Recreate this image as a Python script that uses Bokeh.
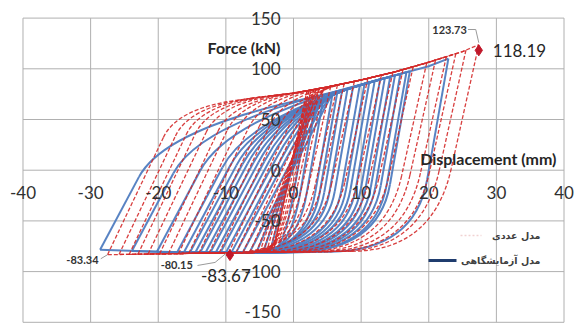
import numpy as np
from bokeh.plotting import figure
from bokeh.models import Range1d, Label, BoxAnnotation
from bokeh.core.properties import value
from bokeh.embed import file_html
from bokeh.resources import INLINE

# ---------------- data ----------------
x_ticks = [-40, -30, -20, -10, 0, 10, 20, 30, 40]
y_ticks = [-150, -100, -50, 0, 50, 100, 150]
x_tick_labels = ["-40", "-30", "-20", "-10", "0", "10", "20", "30", "40"]
y_tick_labels = ["-150", "-100", "-50", "0", "50", "100", "150"]

# experimental model (blue): cycle peaks
exp_neg_disp = [-3.5, -4.5, -5.5, -6.5, -7.5, -8.5, -9.2, -10.0, -10.8, -11.5,
                -12.3, -13.0, -13.8, -14.5, -15.3, -16.2, -17.2, -20.2, -23.9, -28.6]
exp_neg_force = [-81.1, -81.1, -81.2, -81.2, -81.2, -81.3, -81.3, -81.3, -81.2, -81.2,
                 -81.2, -81.1, -81.1, -81.0, -81.0, -80.9, -80.8, -80.5, -79.7, -78.5]
exp_pos_disp = [2.5, 3.5, 4.5, 5.8, 6.5, 7.2, 8.0, 8.8, 9.8, 10.5,
                11.2, 12.0, 12.8, 13.5, 14.3, 15.0, 15.8, 16.7, 17.2, 22.9]
exp_pos_force = [71.5, 72.9, 74.3, 76.4, 77.7, 79.0, 80.4, 81.8, 83.6, 84.9,
                 86.3, 87.8, 89.3, 90.6, 92.2, 93.5, 94.9, 96.6, 97.5, 110.0]
exp_top_env_x = [-30, -20, -10, -5, 0, 5, 10, 15, 20, 23]
exp_top_env_y = [30, 40, 52, 60, 68, 75, 84, 93.5, 102.5, 110]
exp_bot_env_x = [-30, -20, -10, 0, 10, 20, 30]
exp_bot_env_y = [-78.5, -80.5, -81.3, -81.0, -80.0, -78.5, -76.0]

# numerical model (red): cycle peaks
num_neg_disp = [-3.0, -3.5, -4.0, -4.5, -5.0, -5.5, -6.5, -7.5, -8.5, -9.6, -11.0,
                -12.5, -14.0, -15.5, -17.0, -18.5, -19.8, -21.5, -23.0, -24.3, -25.8, -27.5]
num_neg_force = [-80.9, -81.0, -81.0, -81.1, -81.1, -81.2, -81.3, -81.4, -81.5, -81.5, -81.6,
                 -81.8, -81.9, -82.1, -82.2, -82.4, -82.5, -82.7, -82.8, -83.0, -83.1, -83.34]
num_pos_disp = [2.0, 2.3, 2.6, 3.0, 3.3, 3.8, 4.5, 5.5, 6.5, 7.5, 9.0,
                11.0, 13.0, 14.7, 16.2, 17.7, 19.7, 21.0, 22.6, 24.0, 25.5, 27.4]
num_pos_force = [78.4, 78.8, 79.1, 79.6, 80.0, 80.6, 81.4, 82.7, 84.1, 85.5, 87.6,
                 90.6, 93.8, 96.5, 99.3, 102.1, 105.9, 108.6, 112.0, 114.9, 118.4, 123.73]
num_top_env_x = [-30, -20, -15, -10, -5, 0, 5, 10, 15, 20, 25, 27.4]
num_top_env_y = [50, 58, 63, 67.5, 72, 76, 82, 89, 97, 106.5, 117, 123.73]
num_bot_env_x = [-30, -20, -10, 0, 10, 20, 30]
num_bot_env_y = [-83.6, -82.5, -81.5, -80.6, -79.8, -79.0, -78.0]

# annotations
ann_x = [27.4, 27.4, -27.5, -10.0, -9.4]
ann_y = [123.73, 118.19, -83.34, -80.15, -83.67]
ann_text = ["123.73", "118.19", "-83.34", "-80.15", "-83.67"]

legend_labels = ["مدل عددی", "مدل آزمایشگاهی"]


def build_loops(dns, fns, dps, fps, tx, ty, bx, by, k_r, k_u, a_r, a_u, rw_r, rw_u):
    lxs, lys = [], []
    q = dict(x0=[], y0=[], x1=[], y1=[], cx=[], cy=[])

    def addq(x0, y0, x1, y1, cx, cy):
        q["x0"].append(x0); q["y0"].append(y0); q["x1"].append(x1)
        q["y1"].append(y1); q["cx"].append(cx); q["cy"].append(cy)

    for dn, fn, dp, fp in zip(dns, fns, dps, fps):
        # reloading branch (negative peak -> positive peak)
        g = np.linspace(dn, dp, 1500)
        d = fn + k_r * (g - dn) - np.interp(g, tx, ty)
        hit = np.nonzero(d >= 0)[0]
        if len(hit) == 0:
            lxs.append([dn, dp]); lys.append([fn, fp])
        else:
            ix = float(g[hit[0]]); iy = fn + k_r * (ix - dn)
            sx = dn + a_r * (ix - dn); sy = fn + a_r * (iy - fn)
            ex = min(ix + rw_r, dp)
            ey = fp if ex >= dp else float(np.interp(ex, tx, ty))
            lxs.append([dn, sx]); lys.append([fn, sy])
            addq(sx, sy, ex, ey, ix, iy)
            if ex < dp:
                mid = [v for v in tx if ex < v < dp]
                lxs.append([ex] + mid + [dp])
                lys.append([ey] + [float(np.interp(v, tx, ty)) for v in mid] + [fp])
        # unloading branch (positive peak -> negative peak)
        g = np.linspace(dp, dn, 1500)
        d = fp - k_u * (dp - g) - np.interp(g, bx, by)
        hit = np.nonzero(d <= 0)[0]
        if len(hit) == 0:
            lxs.append([dp, dn]); lys.append([fp, fn])
        else:
            ix = float(g[hit[0]]); iy = fp - k_u * (dp - ix)
            sx = dp + a_u * (ix - dp); sy = fp + a_u * (iy - fp)
            ex = max(ix - rw_u, dn)
            ey = fn if ex <= dn else float(np.interp(ex, bx, by))
            lxs.append([dp, sx]); lys.append([fp, sy])
            addq(sx, sy, ex, ey, ix, iy)
            if ex > dn:
                mid = [v for v in reversed(bx) if dn < v < ex]
                lxs.append([ex] + mid + [dn])
                lys.append([ey] + [float(np.interp(v, bx, by)) for v in mid] + [fn])
    return lxs, lys, q


# ---------------- figure ----------------
p = figure(width=578, height=324,
           x_range=Range1d(-43.327, 42.144), y_range=Range1d(-152.17, 167.36),
           output_backend="svg", toolbar_location=None,
           x_axis_type=None, y_axis_type=None, min_border=0)
p.grid.visible = False
p.outline_line_color = None
p.background_fill_color = "white"
p.border_fill_color = "white"

grid_col = "#b0b0b0"
p.segment(x0=x_ticks, y0=[y_ticks[0]] * len(x_ticks), x1=x_ticks, y1=[y_ticks[-1]] * len(x_ticks),
          line_color=grid_col, line_width=1)
p.segment(x0=[x_ticks[0]] * len(y_ticks), y0=y_ticks, x1=[x_ticks[-1]] * len(y_ticks), y1=y_ticks,
          line_color=grid_col, line_width=1)

blue = "#4f7cc0"
red = "#d42a2a"

bxs, bys, bq = build_loops(exp_neg_disp, exp_neg_force, exp_pos_disp, exp_pos_force,
                           exp_top_env_x, exp_top_env_y, exp_bot_env_x, exp_bot_env_y,
                           k_r=12.5, k_u=38, a_r=0.6, a_u=0.63, rw_r=22, rw_u=12.5)
p.multi_line(xs=bxs, ys=bys, line_color=blue, line_width=2.0, line_alpha=0.95)
p.quadratic(x0=bq["x0"], y0=bq["y0"], x1=bq["x1"], y1=bq["y1"], cx=bq["cx"], cy=bq["cy"],
            line_color=blue, line_width=2.0, line_alpha=0.95)

rxs, rys, rq = build_loops(num_neg_disp, num_neg_force, num_pos_disp, num_pos_force,
                           num_top_env_x, num_top_env_y, num_bot_env_x, num_bot_env_y,
                           k_r=14, k_u=30, a_r=0.8, a_u=0.6, rw_r=9, rw_u=12)
p.multi_line(xs=rxs, ys=rys, line_color=red, line_width=1.3, line_dash="4 2", line_alpha=0.9)
p.quadratic(x0=rq["x0"], y0=rq["y0"], x1=rq["x1"], y1=rq["y1"], cx=rq["cx"], cy=rq["cy"],
            line_color=red, line_width=1.3, line_dash="4 2", line_alpha=0.9)

# markers
p.scatter(x=[ann_x[1], ann_x[4]], y=[ann_y[1], ann_y[4]], marker="diamond", size=11,
          fill_color="#c0182a", line_color="#c0182a")

# leader lines
lead_col = "#9a9a9a"
p.line(x=[ann_x[0] - 1.6, ann_x[0] - 0.45, ann_x[0]], y=[ann_y[0] + 15, ann_y[0] + 15, ann_y[0] + 2],
       line_color=lead_col, line_width=1)
p.line(x=[ann_x[2] - 1.0, ann_x[2]], y=[ann_y[2] - 4, ann_y[2]], line_color=lead_col, line_width=1)
p.line(x=[ann_x[3] - 4.2, ann_x[3] - 1.6, ann_x[3]], y=[ann_y[3] - 13.8, ann_y[3] - 10.8, ann_y[3] - 2],
       line_color=lead_col, line_width=1)

# tick labels
font = value("Lato")
txt_col = "#303030"
p.text(x=x_ticks, y=[0] * len(x_ticks), text=x_tick_labels, y_offset=22,
       text_align="center", text_baseline="middle", text_font=font,
       text_font_size="17px", text_color=txt_col)
# the lowest y label sits at the very bottom edge: nudge it up so it stays inside the picture
y_label_offsets = [-11 if v == y_ticks[0] else 0 for v in y_ticks]
p.text(x=[0] * len(y_ticks), y=y_ticks, text=y_tick_labels, x_offset=-13,
       y_offset=y_label_offsets,
       text_align="right", text_baseline="middle", text_font=font,
       text_font_size="17px", text_color=txt_col)

# axis titles
p.add_layout(Label(x=280, y=277, x_units="screen", y_units="screen", text="Force (kN)",
                   text_align="right", text_baseline="middle", text_font="Lato",
                   text_font_style="bold", text_font_size="16px", text_color="#262626"))
p.add_layout(Label(x=556, y=166, x_units="screen", y_units="screen", text="Displacement (mm)",
                   text_align="right", text_baseline="middle", text_font="Lato",
                   text_font_style="bold", text_font_size="16px", text_color="#262626"))

# value annotations
small = dict(text_font="Lato", text_font_style="bold", text_font_size="11px", text_color="#333333",
             text_baseline="middle")
big = dict(text_font="Lato", text_font_size="17px", text_color="#262626", text_baseline="middle")
p.add_layout(Label(x=ann_x[0], y=ann_y[0], text=ann_text[0], x_offset=-12, y_offset=15,
                   text_align="right", **small))
p.add_layout(Label(x=ann_x[1], y=ann_y[1], text=ann_text[1], x_offset=14, y_offset=0,
                   text_align="left", **big))
p.add_layout(Label(x=ann_x[2], y=ann_y[2], text=ann_text[2], x_offset=-9, y_offset=-5,
                   text_align="right", **small))
p.add_layout(Label(x=ann_x[3], y=ann_y[3], text=ann_text[3], x_offset=-33, y_offset=-14,
                   text_align="right", **small))
p.add_layout(Label(x=ann_x[4], y=ann_y[4], text=ann_text[4], x_offset=-4, y_offset=-20.5,
                   text_align="center", **big))

# legend
leg = dict(text_font="DejaVu Sans", text_font_style="bold", text_font_size="9.5px",
           text_color="#404040", text_align="right", text_baseline="middle",
           x_units="screen", y_units="screen")
p.add_layout(Label(x=540, y=89, text=legend_labels[0], **leg))
p.add_layout(Label(x=540, y=64, text=legend_labels[1], **leg))
p.add_layout(BoxAnnotation(left=460, right=481, top=89, bottom=89,
                           left_units="screen", right_units="screen",
                           top_units="screen", bottom_units="screen",
                           fill_alpha=0, line_color="#cf6b6b", line_width=1.4, line_dash="2 2"))
p.add_layout(BoxAnnotation(left=428, right=456, top=65.5, bottom=62.5,
                           left_units="screen", right_units="screen",
                           top_units="screen", bottom_units="screen",
                           fill_color="#1f3c6e", fill_alpha=1, line_color=None))

open("out.html", "w").write(file_html(p, INLINE))
